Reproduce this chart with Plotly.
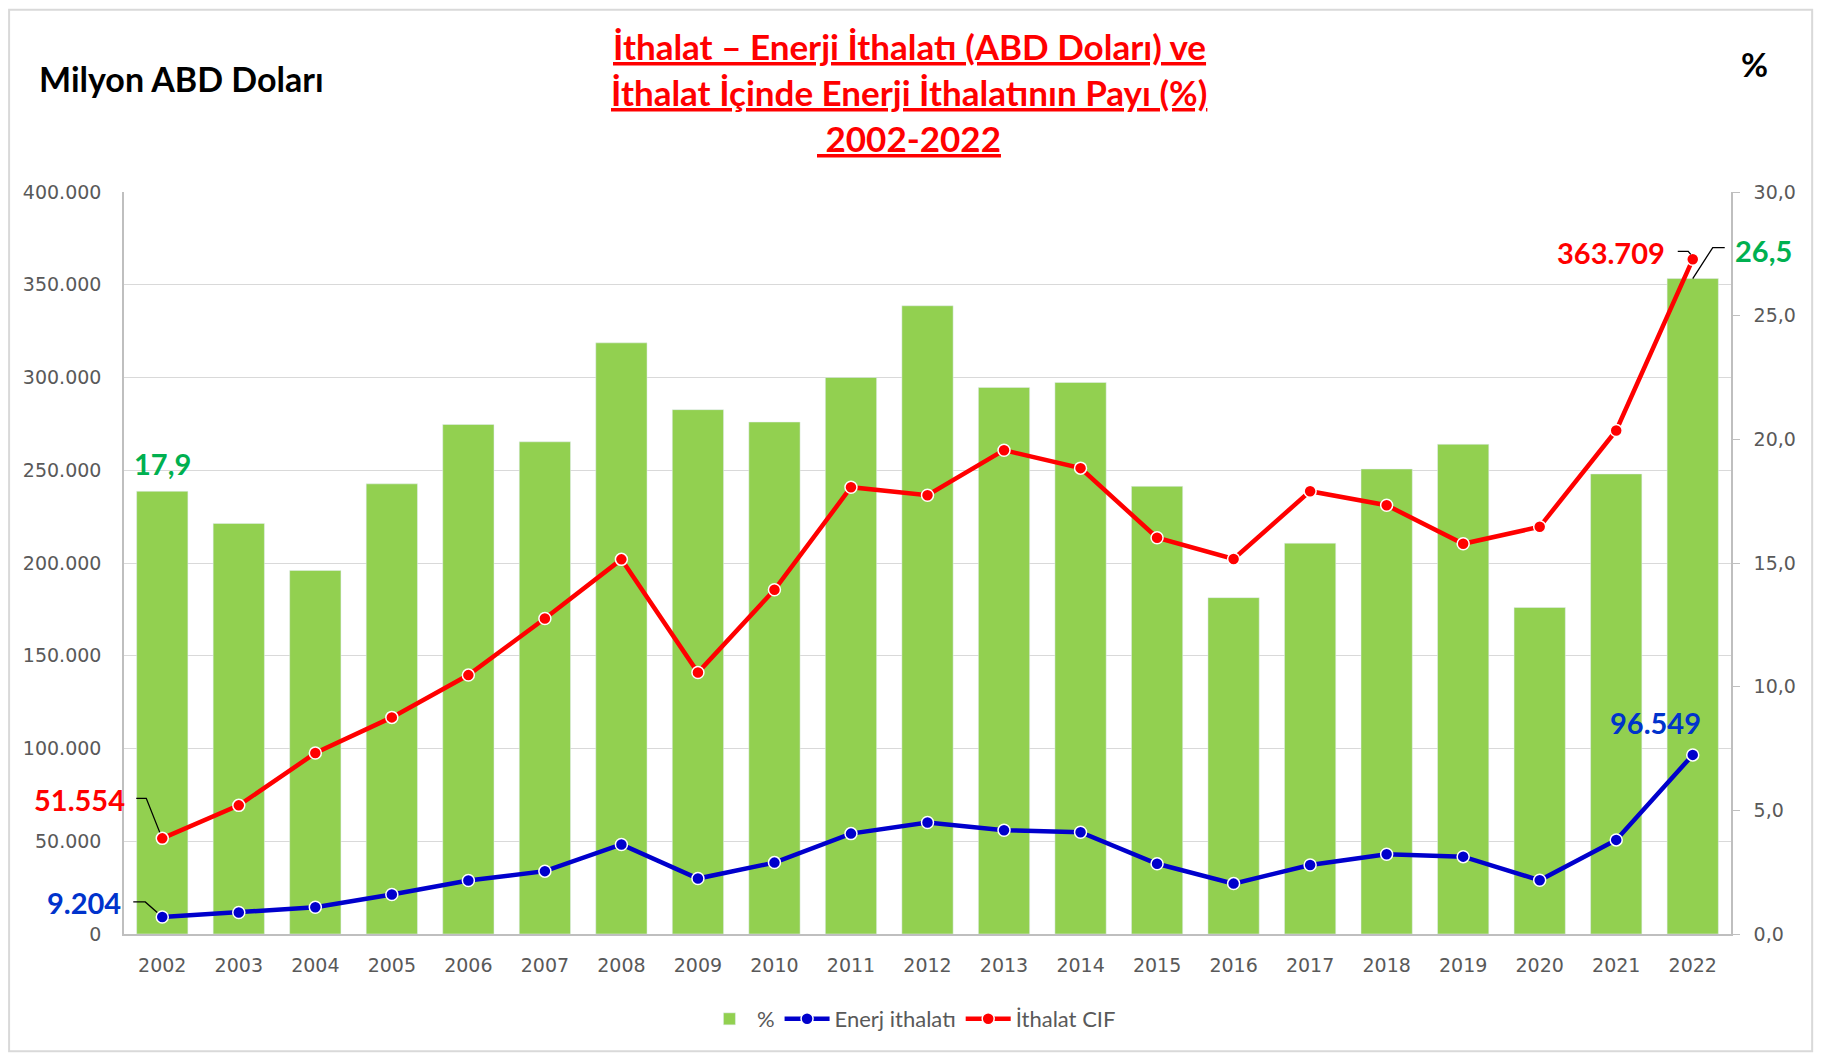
import plotly.graph_objects as go

YEARS = [str(y) for y in range(2002, 2023)]
ENERGY_SHARE = [17.9, 16.6, 14.7, 18.2, 20.6, 19.9, 23.9, 21.2, 20.7, 22.5, 25.4,
                22.1, 22.3, 18.1, 13.6, 15.8, 18.8, 19.8, 13.2, 18.6, 26.5]
ENERGY_IMPORTS = [9204, 11575, 14407, 21255, 28859, 33883, 48281, 29905, 38497, 54117, 60117,
                  55917, 54889, 37843, 27169, 37204, 42993, 41691, 28944, 50720, 96549]
TOTAL_IMPORTS = [51554, 69340, 97540, 116774, 139576, 170063, 201964, 140928, 185544, 240842, 236545,
                 260823, 251142, 213619, 202189, 238715, 231152, 210345, 219517, 271426, 363709]

TITLE_LINES = ["İthalat – Enerji İthalatı (ABD Doları) ve",
               "İthalat İçinde Enerji İthalatının Payı (%)",
               " 2002-2022"]

GREEN = "#92d050"
BLUE = "#0000cc"
RED = "#ff0000"
GRAY = "#595959"
LABEL_FONT = "Lato"
TICK_FONT = "DejaVu Sans"

FIRST, LAST = 0, len(YEARS) - 1  # category indices used by annotations/shapes


def tr_int(v):
    return f"{v:,}".replace(",", ".")


def tr_dec(v):
    return f"{v:.1f}".replace(".", ",")


fig = go.Figure()
fig.add_trace(go.Bar(x=YEARS, y=ENERGY_SHARE, name="%", marker_color=GREEN, yaxis="y"))
fig.add_trace(go.Scatter(
    x=YEARS, y=ENERGY_IMPORTS, name="Enerj ithalatı", yaxis="y2", mode="lines+markers",
    line=dict(color=BLUE, width=4.5),
    marker=dict(size=12, color=BLUE, line=dict(color="white", width=1.5)),
))
fig.add_trace(go.Scatter(
    x=YEARS, y=TOTAL_IMPORTS, name="İthalat CIF", yaxis="y2", mode="lines+markers",
    line=dict(color=RED, width=4.5),
    marker=dict(size=12, color=RED, line=dict(color="white", width=1.5)),
))

annotations = []
for i, line in enumerate(TITLE_LINES):
    annotations.append(dict(
        text=f"<b>{line}</b>", xref="paper", yref="paper", x=0.4885, y=1.197 - i * 0.062,
        xanchor="center", yanchor="middle", showarrow=False,
        font=dict(family=LABEL_FONT, size=35, color=RED, lineposition="under"),
    ))
annotations.append(dict(
    text="<b>Milyon ABD Doları</b>", xref="paper", yref="paper", x=-0.0541, y=1.1536,
    xanchor="left", yanchor="middle", showarrow=False,
    font=dict(family=LABEL_FONT, size=34, color="black"),
))
annotations.append(dict(
    text="<b>%</b>", xref="paper", yref="paper", x=1.0149, y=1.1725,
    xanchor="center", yanchor="middle", showarrow=False,
    font=dict(family=LABEL_FONT, size=33, color="black"),
))

value_labels = [
    (FIRST, ENERGY_SHARE[0], "y", tr_dec(ENERGY_SHARE[0]), "#00b050", "center", 0, 28),
    (LAST, ENERGY_SHARE[-1], "y", tr_dec(ENERGY_SHARE[-1]), "#00b050", "left", 40, 28),
    (FIRST, TOTAL_IMPORTS[0], "y2", tr_int(TOTAL_IMPORTS[0]), RED, "right", -35, 39),
    (LAST, TOTAL_IMPORTS[-1], "y2", tr_int(TOTAL_IMPORTS[-1]), RED, "right", -26, 7),
    (FIRST, ENERGY_IMPORTS[0], "y2", tr_int(ENERGY_IMPORTS[0]), "#0033cc", "right", -39, 14),
    (LAST, ENERGY_IMPORTS[-1], "y2", tr_int(ENERGY_IMPORTS[-1]), "#0033cc", "center", -37, 32),
]
for x, y, yref, txt, color, anchor, dx, dy in value_labels:
    annotations.append(dict(
        text=f"<b>{txt}</b>", x=x, y=y, xref="x", yref=yref, xanchor=anchor, yanchor="middle",
        xshift=dx, yshift=dy, showarrow=False,
        font=dict(family=LABEL_FONT, size=29, color=color),
    ))

# leader lines (pixel offsets relative to the data point)
leaders = [
    (LAST, ENERGY_SHARE[-1], "y", "M0,0 L20,31 L32,31"),
    (FIRST, TOTAL_IMPORTS[0], "y2", "M-2.5,6 L-16,40 L-26,40"),
    (LAST, TOTAL_IMPORTS[-1], "y2", "M-2,5 L-4.5,8 L-15,8"),
    (FIRST, ENERGY_IMPORTS[0], "y2", "M-5,4.5 L-17,15 L-29,15"),
]
shapes = []
for x, y, yref, path in leaders:
    shapes.append(dict(
        type="path", xref="x", yref=yref, xsizemode="pixel", ysizemode="pixel",
        xanchor=x, yanchor=y, path=path, line=dict(color="black", width=1.3), layer="above",
    ))
shapes.append(dict(
    type="rect", xref="paper", yref="paper", x0=-0.0715, x1=1.0505, y0=-0.158, y1=1.2455,
    line=dict(color="#d9d9d9", width=2), layer="below",
))

# the page body adds an 8px offset, so the figure is 8px smaller with shifted margins
fig.update_layout(
    width=1814,
    height=1048,
    margin=dict(l=116, r=91, t=184, b=122, autoexpand=False),
    paper_bgcolor="white",
    plot_bgcolor="white",
    separators=",.",
    bargap=0.33,
    showlegend=True,
    legend=dict(orientation="h", x=0.49, xanchor="center", y=-0.1146, yanchor="middle",
                itemwidth=45, font=dict(family=LABEL_FONT, size=22, color=GRAY),
                traceorder="normal"),
    xaxis=dict(
        type="category", automargin=False, range=[-0.5, len(YEARS) - 0.5],
        showline=True, linecolor="#bfbfbf", linewidth=1.5, showgrid=False, ticks="",
        tickfont=dict(family=TICK_FONT, size=19, color=GRAY), ticklabelstandoff=13,
    ),
    yaxis=dict(
        side="right", range=[0, 30], dtick=5, tickformat=".1f", showgrid=False, automargin=False,
        showline=True, linecolor="#bfbfbf", linewidth=1.5, ticks="outside", ticklen=7,
        tickcolor="#bfbfbf", tickfont=dict(family=TICK_FONT, size=19, color=GRAY),
        ticklabelstandoff=10, zeroline=False,
    ),
    yaxis2=dict(
        side="left", overlaying="y", range=[0, 400000], dtick=50000, tickformat=",d",
        automargin=False,
        showgrid=True, gridcolor="#d9d9d9", gridwidth=1.3, showline=True, linecolor="#bfbfbf",
        linewidth=1.5, ticks="", tickfont=dict(family=TICK_FONT, size=19, color=GRAY),
        ticklabelstandoff=17, zeroline=False,
    ),
    annotations=annotations,
    shapes=shapes,
)

fig.write_html("out.html")
